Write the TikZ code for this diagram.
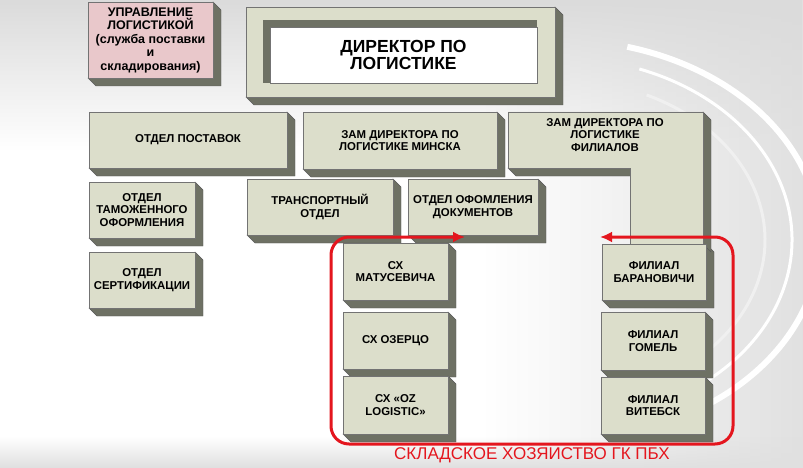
\documentclass[tikz,border=0pt]{standalone}
\usepackage{fontspec}
\setmainfont{Liberation Sans}
\usetikzlibrary{arrows.meta}
\usetikzlibrary{calc,fadings}
\definecolor{facegreen}{RGB}{220,222,203}
\definecolor{facepink}{RGB}{233,200,203}
\definecolor{sidegray}{RGB}{110,113,100}
\definecolor{framered}{RGB}{228,22,30}
\pgfdeclarelayer{bg}
\pgfdeclarelayer{depth}
\pgfsetlayers{bg,depth,main}

\begin{document}
\begin{tikzpicture}[
  x=1pt, y=-1pt,
  font=\bfseries\fontsize{11.4}{12.5}\selectfont,
  block/.style={draw=black!55,fill=facegreen,anchor=north west,inner sep=1pt,outer sep=0pt},
  pinkblock/.style={block,fill=facepink,font=\bfseries\fontsize{12.5}{13.5}\selectfont},
  depth/.style={fill=sidegray,draw=black!65,line width=.4pt},
  frame/.style={draw=framered,line width=3pt,rounded corners=18pt,>={Latex[length=12pt,width=11pt]}},
  grouplabel/.style={text=framered,font=\mdseries\fontsize{17}{18}\selectfont},
  swoosh/.style={white,line width=6pt},
  every node/.style={align=center}]

  \useasboundingbox (0,0) rectangle (803,468);
  \begin{pgfonlayer}{bg}
    \fill[white] (0,0) rectangle (803,468);
    \shade[left color=white,right color=black!12] (480,0) rectangle (803,468);
    \fill[black!14,path fading=south] (0,0) rectangle (803,150);
    \fill[black!12,path fading=north] (0,436) rectangle (803,468);
    \begin{scope}
      \clip (0,0) rectangle (803,468);
      \draw[swoosh] ([shift={(-60:260pt and 200pt)}]560,240) arc[start angle=-60,end angle=75,x radius=260pt,y radius=200pt];
      \draw[swoosh,line width=3pt] ([shift={(-55:232pt and 182pt)}]560,240) arc[start angle=-55,end angle=70,x radius=232pt,y radius=182pt];
      \draw[black!6,line width=3pt] ([shift={(-50:205pt and 160pt)}]560,240) arc[start angle=-50,end angle=65,x radius=205pt,y radius=160pt];
    \end{scope}
  \end{pgfonlayer}

  % top row
  \node[pinkblock,minimum width=125pt,minimum height=76pt] (upravlenie) at (88,2)
    {УПРАВЛЕНИЕ\\ЛОГИСТИКОЙ\\(служба поставки\\и\\складирования)};
  \node[block,minimum width=309pt,minimum height=90pt] (direktor) at (246,7) {};
  \fill[sidegray] (263,20) rectangle (537,83);
  \node[block,fill=white,minimum width=267pt,minimum height=56pt,
    font=\bfseries\fontsize{17.5}{16.5}\selectfont] (direktortext) at (270,27) {ДИРЕКТОР ПО\\ЛОГИСТИКЕ};

  % second row
  \node[block,minimum width=198pt,minimum height=56pt] (postavok) at (89,112) {ОТДЕЛ ПОСТАВОК};
  \node[block,minimum width=194pt,minimum height=57pt] (zamminsk) at (303,112) {ЗАМ ДИРЕКТОРА ПО\\ЛОГИСТИКЕ МИНСКА};
  \filldraw[draw=black!55,fill=facegreen] (508,112) -- (703,112) -- (703,244) -- (630,244) -- (630,168) -- (508,168) -- cycle;
  \node (zamfil) at (605,135) {ЗАМ ДИРЕКТОРА ПО\\ЛОГИСТИКЕ\\ФИЛИАЛОВ};

  % third row
  \node[block,minimum width=106pt,minimum height=56pt] (tamozh) at (89,182) {ОТДЕЛ\\ТАМОЖЕННОГО\\ОФОРМЛЕНИЯ};
  \node[block,minimum width=146pt,minimum height=56pt] (transp) at (247,179) {ТРАНСПОРТНЫЙ\\ОТДЕЛ};
  \node[block,minimum width=130pt,minimum height=56pt] (oformlen) at (408,179) {ОТДЕЛ ОФОМЛЕНИЯ\\ДОКУМЕНТОВ};
  \node[block,minimum width=106pt,minimum height=56pt] (sert) at (89,252) {ОТДЕЛ\\СЕРТИФИКАЦИИ};

  % warehouses and branches
  \node[block,minimum width=105pt,minimum height=57pt] (matus) at (343,243) {СХ\\МАТУСЕВИЧА};
  \node[block,minimum width=105pt,minimum height=57pt] (ozerco) at (343,312) {СХ ОЗЕРЦО};
  \node[block,minimum width=105pt,minimum height=58pt] (ozlog) at (343,376) {СХ «OZ\\LOGISTIC»};
  \node[block,minimum width=104pt,minimum height=56pt] (baran) at (602,244) {ФИЛИАЛ\\БАРАНОВИЧИ};
  \node[block,minimum width=104pt,minimum height=58pt] (gomel) at (601,312) {ФИЛИАЛ\\ГОМЕЛЬ};
  \node[block,minimum width=104pt,minimum height=57pt] (viteb) at (601,377) {ФИЛИАЛ\\ВИТЕБСК};

  % 3d sides
  \begin{pgfonlayer}{depth}
    \foreach \n in {upravlenie,direktor,postavok,zamminsk,tamozh,transp,oformlen,sert,matus,ozerco,ozlog,baran,gomel,viteb}
      \filldraw[depth] (\n.north east) -- ([shift={(8,8)}]\n.north east) -- ([shift={(8,8)}]\n.south east)
        -- ([shift={(8,8)}]\n.south west) -- (\n.south west) -- cycle;
    \filldraw[depth] (703,112) -- (711,120) -- (711,252) -- (703,244) -- cycle;
    \filldraw[depth] (508,168) -- (516,176) -- (638,176) -- (630,168) -- cycle;
  \end{pgfonlayer}

  % storage group
  \coordinate (tipL) at (465,237);
  \coordinate (tipR) at (600,237);
  \coordinate (frameNW) at (331,237);
  \coordinate (frameSE) at (733,444);
  \draw[frame,<->] (tipL) -- (frameNW) |- (frameSE) |- (tipR);
  \node[grouplabel] (grouplabel) at (532,455) {СКЛАДСКОЕ ХОЗЯИСТВО ГК ПБХ};
\end{tikzpicture}
\end{document}
